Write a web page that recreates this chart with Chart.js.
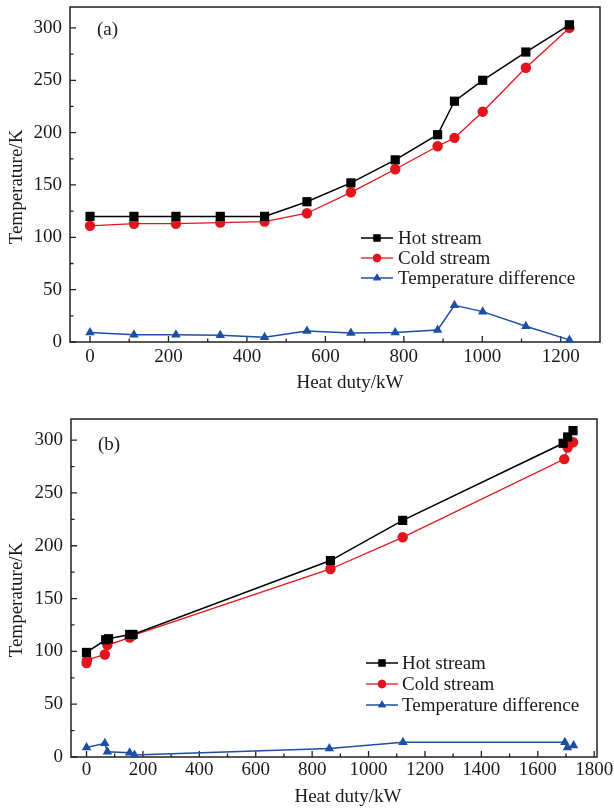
<!DOCTYPE html>
<html><head><meta charset="utf-8">
<script src="https://cdn.jsdelivr.net/npm/chart.js@4.4.1/dist/chart.umd.min.js"></script>
<style>html,body{margin:0;padding:0;background:#fff;} canvas{display:block;}</style>
</head><body>
<canvas id="ca" width="614" height="405"></canvas>
<canvas id="cb" width="614" height="405"></canvas>
<script>
// ---------- data ----------
const seriesNames = ['Hot stream', 'Cold stream', 'Temperature difference'];
const xTitle = 'Heat duty/kW';
const yTitle = 'Temperature/K';
const panelLabels = ['(a)', '(b)'];

// panel (a)
const dutyA = [0, 112, 219, 332, 445, 553, 665, 778, 886, 929, 1001, 1111, 1222];
const hotA  = [120, 120, 120, 120, 120, 134, 152, 174, 198, 230, 250, 277, 303];
const coldA = [111, 113, 113, 114, 115, 123, 143, 165, 187, 195, 220, 262, 300];
const diffA = [9, 7, 7, 6.5, 4.5, 10.5, 8.5, 9, 11.5, 35, 29, 15, 2];

// panel (b)
const hotDutyB  = [0, 68, 78, 153, 165, 865, 1121, 1690, 1706, 1725];
const hotB      = [99, 111, 112, 116, 116, 186, 224, 297, 303, 309];
const coldDutyB = [0, 2, 65, 74, 153, 162, 865, 1121, 1694, 1706, 1725];
const coldB     = [89, 92, 97, 106, 113, 115, 178, 208, 282, 293, 298];
const diffDutyB = [0, 65, 74, 153, 170, 861, 1122, 1696, 1705, 1727];
const diffB     = [9, 13, 5, 4, 2, 8, 14, 14, 9, 11];

// ticks
const xTicksA = [0, 200, 400, 600, 800, 1000, 1200];
const xMinorA = [100, 300, 500, 700, 900, 1100];
const xTicksB = [0, 200, 400, 600, 800, 1000, 1200, 1400, 1600, 1800];
const xMinorB = [100, 300, 500, 700, 900, 1100, 1300, 1500, 1700];
const yTicks = [0, 50, 100, 150, 200, 250, 300];
const yMinor = [25, 75, 125, 175, 225, 275];

// ---------- styling ----------
const FONT = '"Liberation Serif", "Times New Roman", serif';
const COLORS = ['#000000', '#e3141c', '#1f4ea6'];
const STYLES = ['rect', 'circle', 'triangle'];
const RADII = [6.5, 5.2, 5.5];
const LW = [1.5, 1.3, 1.5];

function pts(xs, ys) { return xs.map((x, i) => ({x: x, y: ys[i]})); }

function makeDatasets(list) {
  return list.map((d, i) => ({
    label: seriesNames[i],
    data: d,
    borderColor: COLORS[i],
    backgroundColor: COLORS[i],
    pointBackgroundColor: COLORS[i],
    pointBorderColor: COLORS[i],
    pointStyle: STYLES[i],
    pointRadius: RADII[i],
    pointBorderWidth: 0,
    borderWidth: LW[i],
    tension: 0,
    clip: 10
  }));
}

const framePlugin = {
  id: 'frame',
  beforeDatasetsDraw(chart, args, opts) {
    const ctx = chart.ctx, a = chart.chartArea;
    const xs = chart.scales.x, ys = chart.scales.y;
    ctx.save();
    ctx.strokeStyle = '#222';
    ctx.lineWidth = 1.5;
    ctx.strokeRect(a.left, a.top, a.right - a.left, a.bottom - a.top);
    ctx.lineWidth = 1.3;
    ctx.beginPath();
    opts.xMajor.forEach(v => { const p = xs.getPixelForValue(v); ctx.moveTo(p, a.bottom); ctx.lineTo(p, a.bottom - 6); });
    opts.xMinor.forEach(v => { const p = xs.getPixelForValue(v); ctx.moveTo(p, a.bottom); ctx.lineTo(p, a.bottom - 3.5); });
    yTicks.forEach(v => { const p = ys.getPixelForValue(v); ctx.moveTo(a.left, p); ctx.lineTo(a.left + 6, p); });
    yMinor.forEach(v => { const p = ys.getPixelForValue(v); ctx.moveTo(a.left, p); ctx.lineTo(a.left + 3.5, p); });
    ctx.stroke();
    ctx.restore();
  },
  afterDraw(chart, args, opts) {
    const ctx = chart.ctx;
    ctx.save();
    ctx.fillStyle = '#1a1a1a';
    ctx.font = '19px ' + FONT;
    // axis titles
    ctx.textAlign = 'center';
    ctx.textBaseline = 'middle';
    ctx.fillText(xTitle, opts.xTitlePos[0], opts.xTitlePos[1]);
    ctx.save();
    ctx.translate(opts.yTitlePos[0], opts.yTitlePos[1]);
    ctx.rotate(-Math.PI / 2);
    ctx.fillText(yTitle, 0, 0);
    ctx.restore();
    // panel label
    ctx.textAlign = 'left';
    ctx.fillText(opts.panel, opts.panelPos[0], opts.panelPos[1]);
    // legend
    const L = opts.legend;
    for (let i = 0; i < 3; i++) {
      const y = L.y0 + i * L.dy;
      ctx.strokeStyle = COLORS[i];
      ctx.fillStyle = COLORS[i];
      ctx.lineWidth = LW[i];
      ctx.beginPath();
      ctx.moveTo(L.x0, y); ctx.lineTo(L.x1, y);
      ctx.stroke();
      Chart.helpers.drawPoint(ctx, {pointStyle: STYLES[i], radius: [5, 4.2, 4.6][i], rotation: 0, borderWidth: 0}, (L.x0 + L.x1) / 2, y);
      ctx.fill();
      ctx.fillStyle = '#1a1a1a';
      ctx.textAlign = 'left';
      ctx.textBaseline = 'middle';
      ctx.fillText(seriesNames[i], L.tx, y + 1);
    }
    ctx.restore();
  }
};

function makeChart(id, datasets, cfg) {
  return new Chart(document.getElementById(id), {
    type: 'line',
    data: {datasets: datasets},
    plugins: [framePlugin],
    options: {
      responsive: false,
      animation: false,
      devicePixelRatio: 1,
      layout: {padding: {top: cfg.top, right: cfg.right, left: 0, bottom: 0}},
      plugins: {
        legend: {display: false},
        tooltip: {enabled: false},
        frame: cfg.frame
      },
      scales: {
        x: {
          type: 'linear',
          min: cfg.xmin, max: cfg.xmax,
          grid: {display: false, drawTicks: false},
          border: {display: false},
          afterBuildTicks: s => { s.ticks = cfg.xMajor.map(v => ({value: v})); },
          afterFit: s => { s.height = cfg.xAxisH; s.paddingLeft = 0; s.paddingRight = 0; },
          ticks: {
            autoSkip: false, maxRotation: 0, padding: cfg.xPad,
            callback: v => String(v),
            color: '#1a1a1a', font: {family: FONT, size: 19}
          }
        },
        y: {
          type: 'linear',
          min: 0, max: 320,
          grid: {display: false, drawTicks: false},
          border: {display: false},
          afterBuildTicks: s => { s.ticks = yTicks.map(v => ({value: v})); },
          afterFit: s => { s.width = cfg.yAxisW; s.paddingTop = 0; s.paddingBottom = 0; },
          ticks: {
            autoSkip: false, padding: 8,
            callback: v => String(v),
            color: '#1a1a1a', font: {family: FONT, size: 19}
          }
        }
      }
    }
  });
}

makeChart('ca', makeDatasets([pts(dutyA, hotA), pts(dutyA, coldA), pts(dutyA, diffA)]), {
  top: 7, right: 14, xmin: -51, xmax: 1300, xAxisH: 63, yAxisW: 70, xPad: 4,
  xMajor: xTicksA,
  frame: {
    xMajor: xTicksA, xMinor: xMinorA,
    xTitlePos: [350, 383], yTitlePos: [17, 187],
    panel: panelLabels[0], panelPos: [97, 30],
    legend: {x0: 361, x1: 393, tx: 398, y0: 238, dy: 20}
  }
});

makeChart('cb', makeDatasets([pts(hotDutyB, hotB), pts(coldDutyB, coldB), pts(diffDutyB, diffB)]), {
  top: 14, right: 17, xmin: -55, xmax: 1810, xAxisH: 53, yAxisW: 71, xPad: 2,
  xMajor: xTicksB,
  frame: {
    xMajor: xTicksB, xMinor: xMinorB,
    xTitlePos: [348, 392], yTitlePos: [17, 195],
    panel: panelLabels[1], panelPos: [98, 40],
    legend: {x0: 366, x1: 398, tx: 402, y0: 258, dy: 21}
  }
});
</script>
</body></html>
